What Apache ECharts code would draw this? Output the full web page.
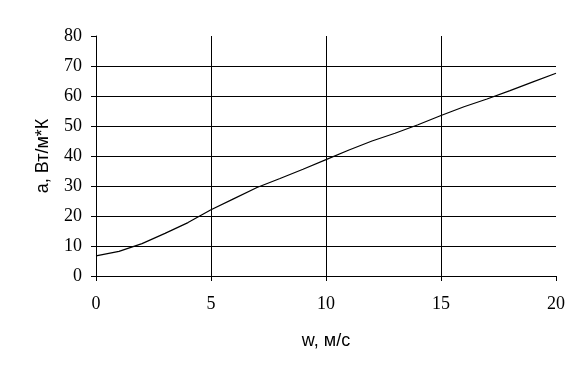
<!DOCTYPE html>
<html><head><meta charset="utf-8">
<script src="https://cdn.jsdelivr.net/npm/echarts@6/dist/echarts.min.js"></script>
<style>html,body{margin:0;padding:0;background:#fff}#c{width:579px;height:380px}</style>
</head><body><div id="c"></div>
<script>
const wValues = [0,1,2,3,4,5,6,7,8,9,10,11,12,13,14,15,16,17,18,19,20];
const aValues = [6.7,8.2,10.8,14.2,17.8,22.1,25.8,29.5,32.5,35.6,38.8,42,45,47.6,50.4,53.5,56.4,59,61.8,64.7,67.6];
const xName = 'w, м/с';
const yName = 'а, Вт/м*К';

const chart = echarts.init(document.getElementById('c'), null, {renderer:'canvas'});
const tickFont = {fontFamily:'Liberation Serif', fontSize:18, color:'#000'};
chart.setOption({
  animation:false,
  backgroundColor:'#fff',
  grid:{left:96,right:23,top:36,bottom:104},
  xAxis:{type:'value',min:0,max:20,interval:5,
    name:xName,nameLocation:'middle',nameGap:56,
    nameTextStyle:{fontFamily:'Liberation Sans',fontSize:18,color:'#000'},
    axisLine:{lineStyle:{color:'#000',width:1}},
    axisTick:{show:true,length:5,lineStyle:{color:'#000'}},
    axisLabel:Object.assign({margin:19},tickFont),
    splitLine:{show:true,showMaxLine:false,lineStyle:{color:'#000',width:1}}},
  yAxis:{type:'value',min:0,max:80,interval:10,
    name:yName,nameLocation:'middle',nameGap:44,nameRotate:90,
    nameTextStyle:{fontFamily:'Liberation Sans',fontSize:18,color:'#000'},
    axisLine:{show:true,lineStyle:{color:'#000',width:1}},
    axisTick:{show:true,length:5,lineStyle:{color:'#000'}},
    axisLabel:Object.assign({margin:14},tickFont),
    splitLine:{show:true,showMaxLine:false,lineStyle:{color:'#000',width:1}}},
  series:[{type:'line',data:wValues.map((w,i)=>[w,aValues[i]]),
    showSymbol:false,smooth:false,lineStyle:{color:'#000',width:1.2}}]
});
</script></body></html>
